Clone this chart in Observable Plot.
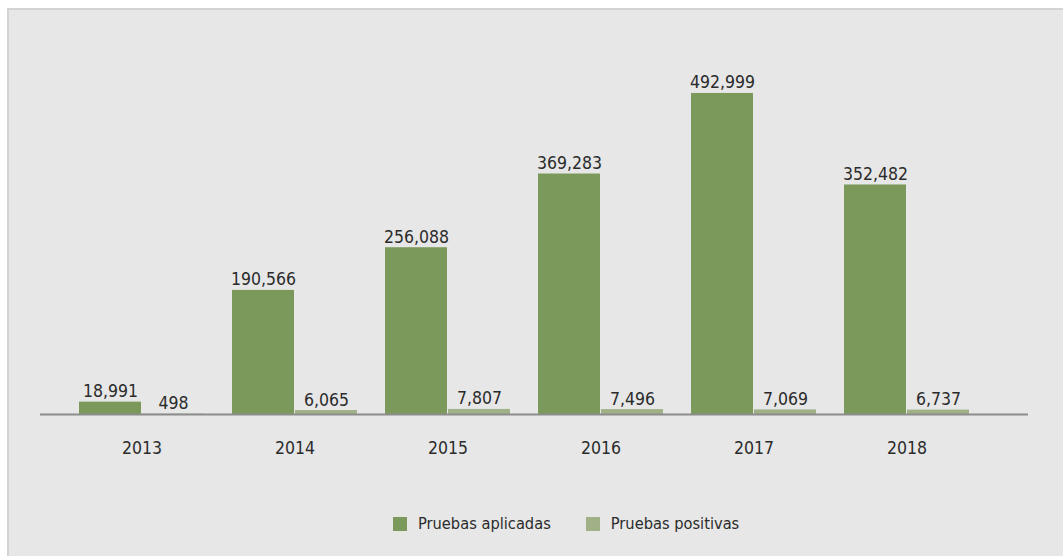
<!DOCTYPE html>
<html><head><meta charset="utf-8">
<script src="https://cdn.jsdelivr.net/npm/d3@7"></script>
<script src="https://cdn.jsdelivr.net/npm/@observablehq/plot@0.6"></script>
<style>
html,body{margin:0;padding:0;background:#fff;width:1063px;height:556px;overflow:hidden;}
#panel{position:absolute;left:7px;top:8px;width:1080px;height:570px;background:#e6e7e6;border-left:2px solid #d3d3d3;border-top:2px solid #d3d3d3;}
#chart{position:absolute;left:0;top:0;}
#legend{position:absolute;left:393px;top:514px;display:flex;gap:35px;font-family:"DejaVu Sans Condensed",sans-serif;font-size:16.3px;color:#2b2b2b;}
.item{display:flex;align-items:center;gap:11px;}
.sw{width:14px;height:14px;display:inline-block;}
</style></head>
<body>
<div id="panel"></div>
<div id="chart"></div>
<div id="legend"></div>
<script>
const years = ["2013","2014","2015","2016","2017","2018"];
const seriesNames = ["Pruebas aplicadas","Pruebas positivas"];
const aplicadas = [18991,190566,256088,369283,492999,352482];
const positivas = [498,6065,7807,7496,7069,6737];
const colors = ["#7b995b","#a1b187"];

const rows = [];
years.forEach((y,i)=>{
  rows.push({year:y, series:seriesNames[0], value:aplicadas[i]});
  rows.push({year:y, series:seriesNames[1], value:positivas[i]});
});
const A = rows.filter(d=>d.series===seriesNames[0]);
const P = rows.filter(d=>d.series===seriesNames[1]);
const fmt = d3.format(",");
const half = 63;

const plot = Plot.plot({
  width: 1063,
  height: 470,
  marginLeft: 40,
  marginRight: 35,
  marginTop: 0,
  marginBottom: 56,
  style: {background:"transparent", fontFamily:'"DejaVu Sans Condensed",sans-serif', fontSize:"17.5px", color:"#2b2b2b"},
  x: {domain: years, range:[63, 984.6], paddingInner:0.18, paddingOuter:0.09, label:null, tickSize:0, tickPadding:27},
  y: {domain:[0,500000], range:[414, 88.4], axis:null},
  marks: [
    Plot.barY(A, {x:"year", y:"value", fill:colors[0], insetRight:half, insetLeft:0}),
    Plot.barY(P, {x:"year", y:"value", fill:colors[1], insetLeft:half, insetRight:0}),
    Plot.ruleY([0], {stroke:"#8c8c8c", strokeWidth:2}),
    Plot.text(A, {x:"year", y:"value", text:d=>fmt(d.value), dx:-31.5, dy:-5, lineAnchor:"bottom", fill:"#2b2b2b", fontSize:17.5}),
    Plot.text(P, {x:"year", y:"value", text:d=>fmt(d.value), dx:31.5, dy:-5, lineAnchor:"bottom", fill:"#2b2b2b", fontSize:17.5})
  ]
});
document.getElementById("chart").appendChild(plot);

const leg = document.getElementById("legend");
seriesNames.forEach((s,i)=>{
  const it = document.createElement("div"); it.className="item";
  const sw = document.createElement("span"); sw.className="sw"; sw.style.background=colors[i];
  const t = document.createElement("span"); t.textContent=s;
  it.appendChild(sw); it.appendChild(t); leg.appendChild(it);
});
</script>
</body></html>
